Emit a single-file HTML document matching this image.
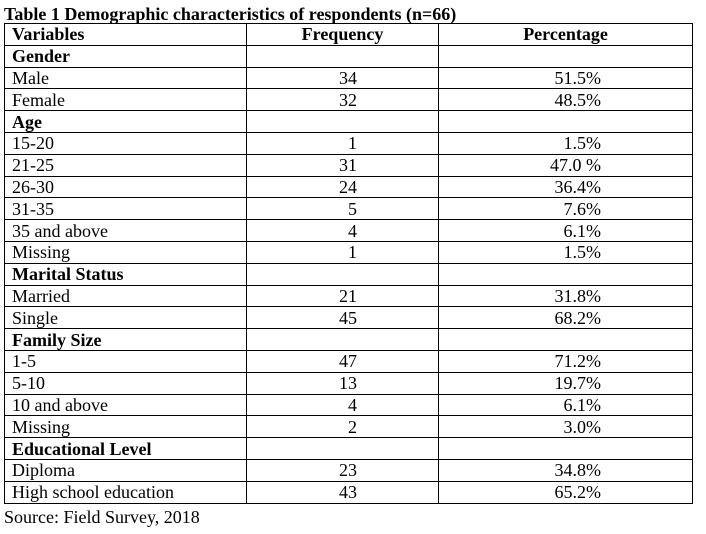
<!DOCTYPE html>
<html><head><style>
body{margin:0;background:#fff;width:706px;height:534px;overflow:hidden;font-family:"Liberation Serif",serif;color:#000;position:relative}
.t{position:absolute;left:4px;top:5px;font-weight:bold;font-size:18px;line-height:18px;white-space:nowrap}
table{position:absolute;left:4px;top:23px;border-collapse:collapse;width:689px;font-size:18px;table-layout:fixed}
tr{height:21.8px}
td{border:1.5px solid #000;padding:0 0 0 7px;line-height:18px;white-space:nowrap;overflow:hidden}
td:nth-child(2){text-align:right;padding-right:81px;padding-left:0}
td:nth-child(3){text-align:right;padding-right:91px;padding-left:0}
tr.h td{font-weight:bold}
tr.h0 td:nth-child(2),tr.h0 td:nth-child(3){text-align:center;padding:0}
.s{position:absolute;left:4px;top:507px;font-size:18px}
</style></head><body>
<div class="t">Table 1 Demographic characteristics of respondents (n=66)</div>
<table>
<colgroup><col style="width:242px"><col style="width:192px"><col></colgroup>
<tr class="h h0"><td>Variables</td><td>Frequency</td><td>Percentage</td></tr>
<tr class="h"><td>Gender</td><td></td><td></td></tr>
<tr><td>Male</td><td>34</td><td>51.5%</td></tr>
<tr><td>Female</td><td>32</td><td>48.5%</td></tr>
<tr class="h"><td>Age</td><td></td><td></td></tr>
<tr><td>15-20</td><td>1</td><td>1.5%</td></tr>
<tr><td>21-25</td><td>31</td><td>47.0 %</td></tr>
<tr><td>26-30</td><td>24</td><td>36.4%</td></tr>
<tr><td>31-35</td><td>5</td><td>7.6%</td></tr>
<tr><td>35 and above</td><td>4</td><td>6.1%</td></tr>
<tr><td>Missing</td><td>1</td><td>1.5%</td></tr>
<tr class="h"><td>Marital Status</td><td></td><td></td></tr>
<tr><td>Married</td><td>21</td><td>31.8%</td></tr>
<tr><td>Single</td><td>45</td><td>68.2%</td></tr>
<tr class="h"><td>Family Size</td><td></td><td></td></tr>
<tr><td>1-5</td><td>47</td><td>71.2%</td></tr>
<tr><td>5-10</td><td>13</td><td>19.7%</td></tr>
<tr><td>10 and above</td><td>4</td><td>6.1%</td></tr>
<tr><td>Missing</td><td>2</td><td>3.0%</td></tr>
<tr class="h"><td>Educational Level</td><td></td><td></td></tr>
<tr><td>Diploma</td><td>23</td><td>34.8%</td></tr>
<tr><td>High school education</td><td>43</td><td>65.2%</td></tr>
</table>
<div class="s">Source: Field Survey, 2018</div>
</body></html>
